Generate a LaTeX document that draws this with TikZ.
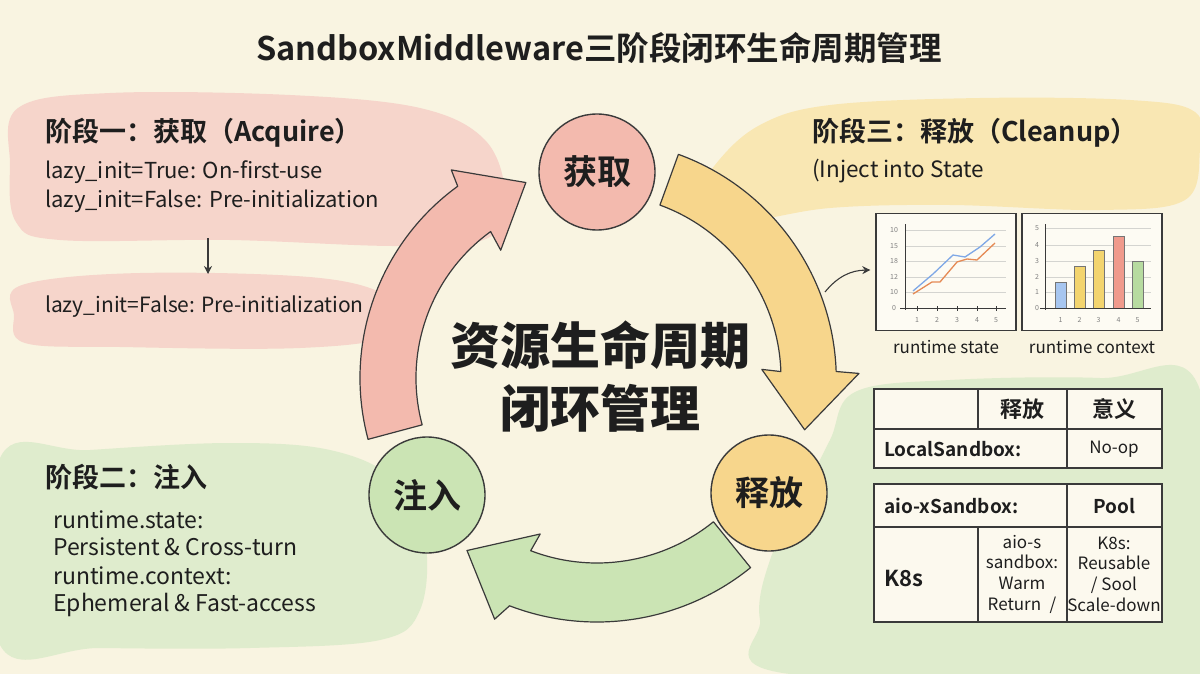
\documentclass[tikz,border=0pt]{standalone}
\usepackage{fontspec}
\usepackage{xcolor}
\setmainfont{Noto Sans CJK SC}[BoldFont={Noto Sans CJK SC Bold}]
\newfontfamily\heavyfont{Noto Sans CJK SC Black}
\usetikzlibrary{arrows.meta, positioning, calc}
\definecolor{paper}{HTML}{F9F4E1}
\definecolor{ink}{HTML}{1E1E1E}
\definecolor{edge}{HTML}{3A3A3A}
\definecolor{pinkwash}{HTML}{F6D5CB}
\definecolor{greenwash}{HTML}{DFECCD}
\definecolor{yellowwash}{HTML}{F9E7B3}
\definecolor{pinkfill}{HTML}{F3BAAE}
\definecolor{greenfill}{HTML}{CBE4B4}
\definecolor{yellowfill}{HTML}{F7D68C}
\definecolor{gridgray}{HTML}{D4D4D0}
\definecolor{plotblue}{HTML}{7FA8E6}
\definecolor{plotorange}{HTML}{E58A55}
\definecolor{barblue}{HTML}{A7C6F0}
\definecolor{baryellow}{HTML}{F3D46E}
\definecolor{barred}{HTML}{F09A8C}
\definecolor{bargreen}{HTML}{B7DBA0}
\newcommand{\fsz}[2]{\fontsize{#1}{#2}\selectfont}

\begin{document}
\begin{tikzpicture}[
    x=1pt, y=1pt,
    wash/.style={fill=#1, draw=none},
    phase/.style={circle, draw=edge, line width=1.4pt, fill=#1, minimum size=116pt,
                  inner sep=0pt, font=\bfseries\fsz{34}{38}, text=ink},
    ringarrow/.style={draw=edge, line width=1.2pt, fill=#1, line join=round},
    head/.style={anchor=west, inner sep=0pt, font=\bfseries\fsz{27}{32}, text=ink},
    body/.style={anchor=west, inner sep=0pt, font=\fsz{#1}{24}, text=ink},
    tiparrow/.style={draw=edge, line width=1.1pt, -{Stealth[length=8pt, width=8pt]}},
    chartbox/.style={draw=edge, line width=1.4pt, fill=white!60!paper,
                     minimum width=140pt, minimum height=117pt, inner sep=0pt},
    caption/.style={inner sep=0pt, font=\fsz{17}{20}, text=ink},
    tick/.style={inner sep=0pt, font=\fsz{7}{8}, text=gray},
    cell/.style={inner sep=0pt, font=\fsz{17}{20.7}, text=ink, align=center},
    cellhead/.style={inner sep=0pt, font=\bfseries\fsz{19}{22}, text=ink}
]
    % page
    \useasboundingbox (0,0) rectangle (1200,-674);
    \fill[paper] (0,0) rectangle (1200,-674);

    % watercolour washes
    \fill[wash=pinkwash] plot[smooth cycle, tension=0.6] coordinates {
        (18,-108) (110,-93) (290,-95) (420,-108) (485,-140) (505,-195)
        (488,-238) (400,-246) (230,-240) (60,-240) (16,-222) (10,-165)};
    \fill[wash=pinkwash] plot[smooth cycle, tension=0.6] coordinates {
        (22,-285) (140,-273) (320,-278) (392,-300) (392,-335) (300,-348)
        (120,-347) (25,-343) (14,-315)};
    \fill[wash=greenwash] plot[smooth cycle, tension=0.6] coordinates {
        (0,-458) (90,-450) (230,-443) (330,-450) (395,-480) (425,-540)
        (420,-610) (380,-640) (250,-648) (100,-648) (0,-645)};
    \fill[wash=yellowwash] plot[smooth cycle, tension=0.6] coordinates {
        (690,-212) (715,-165) (760,-125) (830,-105) (980,-98) (1130,-100)
        (1195,-112) (1200,-150) (1185,-200) (1100,-210) (950,-205) (830,-208) (740,-222)};
    \fill[wash=greenwash] plot[smooth cycle, tension=0.6] coordinates {
        (855,-392) (950,-380) (1100,-378) (1200,-390) (1200,-674) (790,-674)
        (760,-620) (770,-560) (800,-500) (830,-440)};

    % title
    \node[inner sep=0pt, font=\bfseries\fsz{32.5}{36}, text=ink] (title) at (599,-48)
        {SandboxMiddleware三阶段闭环生命周期管理};

    % stage one
    \node[head] (acqhead) at (45,-133) {阶段一：获取（Acquire）};
    \node[body=22] (acqlazy) at (45,-172) {lazy\_init=True: On-first-use};
    \node[body=22] (acqeager) at (45,-201) {lazy\_init=False: Pre-initialization};
    \node[body=21] (acqnext) at (45,-307) {lazy\_init=False: Pre-initialization};
    \coordinate (dnA) at (208,-238);
    \coordinate (dnB) at (208,-274);
    \draw[tiparrow] (dnA) -- (dnB);

    % stage two
    \node[head] (injhead) at (45,-477) {阶段二：注入};
    \node[body=23] (injstate) at (53,-520) {runtime.state:};
    \node[body=23] (injstateb) at (53,-547) {Persistent \& Cross-turn};
    \node[body=23] (injctx) at (53,-576) {runtime.context:};
    \node[body=23] (injctxb) at (53,-605) {Ephemeral \& Fast-access};

    % stage three
    \node[head] (relhead) at (812,-133) {阶段三：释放（Cleanup）};
    \node[body=22.5] (relnote) at (812,-171) {(Inject into State};

    % ring arrows
    \begin{scope}[shift={(597,-378)}]
        \draw[ringarrow=pinkfill] (195:237) arc[start angle=195, end angle=126, radius=237]
            -- (125:254) -- (110:208) -- (127:160) -- (126:181)
            arc[start angle=126, end angle=195, radius=181] -- cycle;
        \draw[ringarrow=yellowfill] (70:238) arc[start angle=70, end angle=2, radius=240]
            -- (1:262) -- (-14:214) -- (3:165) -- (2:184)
            arc[start angle=2, end angle=70, radius=184] -- cycle;
        \draw[ringarrow=greenfill] (-51:244) arc[start angle=-51, end angle=-111, radius=244]
            -- (-113:262) -- (-127:216) -- (-110:166) -- (-111:185)
            arc[start angle=-111, end angle=-51, radius=185] -- cycle;
    \end{scope}

    % phases
    \node[phase=pinkfill] (acquire) at (597,-172) {获取};
    \node[phase=greenfill] (inject) at (427,-495) {注入};
    \node[phase=yellowfill] (release) at (769,-493) {释放};

    \node[inner sep=0pt, align=center, font=\heavyfont\fsz{50}{63}, text=ink] (core) at (600,-377)
        {资源生命周期\\闭环管理};

    % charts
    \node[chartbox] (chartA) at (946,-272) {};
    \node[chartbox] (chartB) at (1092,-272) {};
    \node[caption, below=9pt of chartA] (capA) {runtime state};
    \node[caption, below=9pt of chartB] (capB) {runtime context};
    \coordinate (tap) at (825,-292);
    \draw[tiparrow] (tap) to[bend left=25] ([xshift=-5pt, yshift=2pt]chartA.west);

    % line chart
    \foreach \y/\t in {230/10, 246/15, 261/18, 277/12, 292/10} {
        \draw[gridgray, line width=0.8pt] (905,-\y) -- (1006,-\y);
        \node[tick] at (894,-\y) {\t};
    }
    \node[tick] at (894,-308) {0};
    \draw[edge, line width=0.9pt] (905,-224) -- (905,-310) (900,-308) -- (1006,-308);
    \foreach \x/\t in {917/1, 937/2, 957/3, 977/4, 996/5} {
        \draw[edge, line width=0.6pt] (\x,-306) -- (\x,-311);
        \node[tick] at (\x,-320) {\t};
    }
    \draw[plotblue, line width=1.3pt, line join=round] (913,-291) -- (933,-274) -- (953,-255)
        -- (965,-257) -- (980,-247) -- (995,-234);
    \draw[plotorange, line width=1.3pt, line join=round] (913,-294) -- (932,-282) -- (940,-282)
        -- (957,-262) -- (967,-259) -- (977,-260) -- (995,-243);

    % bar chart
    \foreach \y/\t in {228/5, 245/4, 261/3, 277/2, 292/1} {
        \draw[gridgray, line width=0.8pt] (1045,-\y) -- (1151,-\y);
        \node[tick] at (1037,-\y) {\t};
    }
    \node[tick] at (1037,-308) {0};
    \foreach \x/\top/\c/\t in {1055/282/barblue/1, 1074/266/baryellow/2, 1093/250/baryellow/3,
                               1113/236/barred/4, 1132/261/bargreen/5} {
        \draw[edge!70, fill=\c, line width=0.7pt] (\x,-308) rectangle ({\x+11},-\top);
        \node[tick] at ({\x+5.5},-320) {\t};
    }
    \draw[edge, line width=0.9pt] (1045,-224) -- (1045,-310) (1040,-308) -- (1151,-308);

    % release table
    \draw[edge, line width=1.4pt, fill=white!45!paper] (874,-389) rectangle (1162,-468);
    \draw[edge, line width=1.4pt] (874,-429) -- (1162,-429) (1067,-389) -- (1067,-468)
        (978,-389) -- (978,-429);
    \node[cellhead, font=\bfseries\fsz{22}{24}] (threl) at (1022,-409) {释放};
    \node[cellhead, font=\bfseries\fsz{22}{24}] (thmean) at (1114,-409) {意义};
    \node[cellhead, anchor=west] (local) at (884,-449) {LocalSandbox:};
    \node[cell] (noop) at (1114,-449) {No-op};

    \draw[edge, line width=1.4pt, fill=white!45!paper] (874,-484) rectangle (1162,-622);
    \draw[edge, line width=1.4pt] (874,-527) -- (1162,-527) (1067,-484) -- (1067,-622)
        (978,-527) -- (978,-622);
    \node[cellhead, anchor=west] (aio) at (884,-506) {aio-xSandbox:};
    \node[cellhead] (pool) at (1114,-506) {Pool};
    \node[cellhead, anchor=west, font=\bfseries\fsz{22}{24}] (kube) at (884,-578) {K8s};
    \node[cell] (warm) at (1022,-574) {aio-s\\sandbox:\\Warm\\Return\enspace/};
    \node[cell] (reuse) at (1114,-574) {K8s:\\Reusable\\/ Sool\\Scale-down};
\end{tikzpicture}
\end{document}
